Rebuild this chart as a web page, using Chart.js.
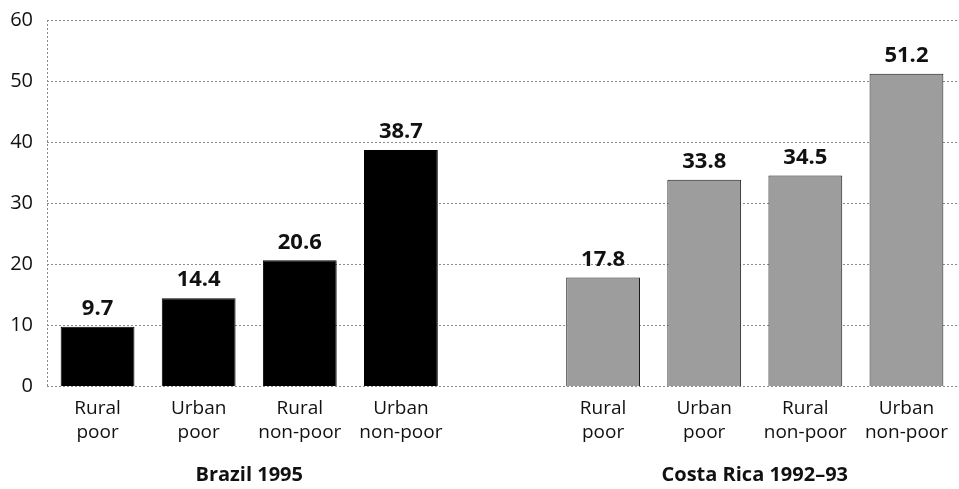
<!DOCTYPE html>
<html>
<head>
<meta charset="utf-8">
<script src="https://cdn.jsdelivr.net/npm/chart.js@4/dist/chart.umd.min.js"></script>
<style>
  html, body { margin: 0; padding: 0; background: #fff; }
  #wrap { width: 959px; height: 489px; position: relative; }
</style>
</head>
<body>
<div id="wrap"><canvas id="chart"></canvas></div>
<script>
// categories: slot 4 is an empty spacer between the two country groups
const categories = [
    ['Rural', 'poor'], ['Urban', 'poor'], ['Rural', 'non-poor'], ['Urban', 'non-poor'],
    '',
    ['Rural', 'poor'], ['Urban', 'poor'], ['Rural', 'non-poor'], ['Urban', 'non-poor']
];
const values = [9.7, 14.4, 20.6, 38.7, null, 17.8, 33.8, 34.5, 51.2];
const groupNames = ['Brazil 1995', 'Costa Rica 1992\u201393'];
const groupFirst = [0, 5];
const groupLast = [3, 8];
const yTicks = [0, 10, 20, 30, 40, 50, 60];

const FONT = '"Open Sans", sans-serif';
const barColors = values.map((v, i) => i < 4 ? '#000000' : '#9d9d9d');
const barBorders = values.map((v, i) => i < 4 ? '#000000' : '#1a1a1a');

// dotted grid lines drawn from the y scale ticks, plus the dotted left edge
const dottedGrid = {
    id: 'dottedGrid',
    beforeDatasetsDraw(chart) {
        const ctx = chart.ctx;
        const area = chart.chartArea;
        const y = chart.scales.y;
        ctx.save();
        ctx.strokeStyle = '#8a8a8a';
        ctx.lineWidth = 1;
        ctx.setLineDash([2, 2]);
        y.ticks.forEach(t => {
            const py = Math.round(y.getPixelForValue(t.value)) + 0.5;
            ctx.beginPath();
            ctx.moveTo(area.left, py);
            ctx.lineTo(area.right, py);
            ctx.stroke();
        });
        ctx.beginPath();
        ctx.moveTo(area.left + 0.5, area.top);
        ctx.lineTo(area.left + 0.5, area.bottom);
        ctx.stroke();
        ctx.restore();
    }
};

const valueLabels = {
    id: 'valueLabels',
    afterDatasetsDraw(chart) {
        const ctx = chart.ctx;
        const meta = chart.getDatasetMeta(0);
        ctx.save();
        ctx.font = 'bold 22px ' + FONT;
        ctx.fillStyle = '#111';
        ctx.textAlign = 'center';
        ctx.textBaseline = 'bottom';
        meta.data.forEach((bar, i) => {
            if (values[i] == null) return;
            ctx.fillText(values[i].toFixed(1), bar.x, bar.y - 7);
        });
        ctx.restore();
    }
};

const groupLabels = {
    id: 'groupLabels',
    afterDraw(chart) {
        const ctx = chart.ctx;
        const x = chart.scales.x;
        ctx.save();
        ctx.font = 'bold 20px ' + FONT;
        ctx.fillStyle = '#111';
        ctx.textAlign = 'center';
        ctx.textBaseline = 'middle';
        groupNames.forEach((name, g) => {
            const cx = (x.getPixelForValue(groupFirst[g]) + x.getPixelForValue(groupLast[g])) / 2;
            ctx.fillText(name, cx, 475);
        });
        ctx.restore();
    }
};

new Chart(document.getElementById('chart'), {
    type: 'bar',
    data: {
        labels: categories,
        datasets: [{
            data: values,
            backgroundColor: barColors,
            borderColor: barBorders,
            borderWidth: 1,
            barPercentage: 0.73,
            categoryPercentage: 1
        }]
    },
    options: {
        responsive: true,
        maintainAspectRatio: false,
        animation: false,
        layout: { padding: 0 },
        plugins: {
            legend: { display: false },
            tooltip: { enabled: false }
        },
        scales: {
            x: {
                grid: { display: false, drawTicks: false },
                border: { display: false },
                ticks: {
                    color: '#111',
                    font: { family: FONT, size: 19, lineHeight: 1.25 },
                    padding: 11,
                    maxRotation: 0,
                    autoSkip: false
                },
                afterFit(scale) { scale.height = 103; }
            },
            y: {
                min: 0,
                max: 60,
                afterBuildTicks(scale) { scale.ticks = yTicks.map(v => ({ value: v })); },
                grid: { display: false, drawTicks: false },
                border: { display: false },
                ticks: {
                    color: '#111',
                    font: { family: FONT, size: 20 },
                    padding: 14
                },
                afterFit(scale) {
                    scale.width = 47;
                    scale.paddingTop = 20;
                    scale.paddingBottom = 0;
                }
            }
        }
    },
    plugins: [dottedGrid, valueLabels, groupLabels]
});
</script>
</body>
</html>
